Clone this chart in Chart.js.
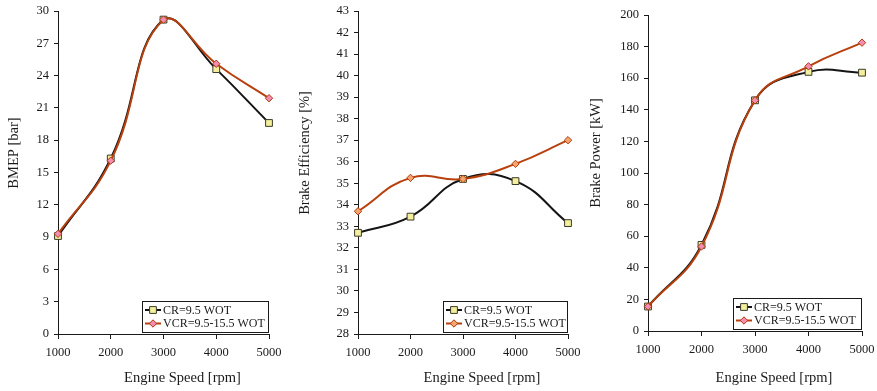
<!DOCTYPE html>
<html>
<head>
<meta charset="utf-8">
<script src="https://cdn.jsdelivr.net/npm/chart.js@4.4.1/dist/chart.umd.min.js"></script>
<style>
  html, body { margin: 0; padding: 0; background: #ffffff; }
  body { width: 877px; height: 391px; position: relative; overflow: hidden; }
  .panel { position: absolute; top: 0; height: 391px; }
  .panel canvas { display: block; }
</style>
</head>
<body>
<div class="panel" id="p1" style="left:0px;width:290px;"><canvas id="c1"></canvas></div>
<div class="panel" id="p2" style="left:290px;width:295px;"><canvas id="c2"></canvas></div>
<div class="panel" id="p3" style="left:580px;width:297px;"><canvas id="c3"></canvas></div>
<script>
// Engine speed sweep (rpm)
const engineSpeed = [1000, 2000, 3000, 4000, 5000];

// Brake mean effective pressure [bar]
const bmepCR  = [9.1, 16.3, 29.2, 24.6, 19.6];
const bmepVCR = [9.3, 16.1, 29.2, 25.1, 21.9];

// Brake efficiency [%]
const effCR  = [32.7, 33.45, 35.2, 35.1, 33.15];
const effVCR = [33.7, 35.25, 35.2, 35.9, 37.0];

// Brake power [kW]
const powerCR  = [15.5, 54.5, 146, 164, 163.5];
const powerVCR = [15.5, 53.5, 146, 167.5, 182.5];

const seriesNames = ['CR=9.5 WOT', 'VCR=9.5-15.5 WOT'];
const xTitle = 'Engine Speed [rpm]';

const SERIF = '"Liberation Serif", "DejaVu Serif", serif';
const INK = '#1a1a1a';

function pairs(xs, ys) {
  return xs.map((x, i) => ({ x: x, y: ys[i] }));
}

function drawMarker(ctx, style, r, x, y) {
  if (style === 'rect') {
    const s = Math.SQRT1_2 * r;
    ctx.rect(x - s, y - s, 2 * s, 2 * s);
  } else {
    ctx.moveTo(x, y - r);
    ctx.lineTo(x + r, y);
    ctx.lineTo(x, y + r);
    ctx.lineTo(x - r, y);
    ctx.closePath();
  }
}

// Boxed legend in the lower-right corner of the plot area
const cornerLegend = {
  id: 'cornerLegend',
  afterDraw(chart, args, opts) {
    const ctx = chart.ctx;
    const a = chart.chartArea;
    const w = opts.width, h = opts.height;
    const x0 = a.right - w - 1, y0 = a.bottom - h - 2;
    ctx.save();
    ctx.fillStyle = '#ffffff';
    ctx.fillRect(x0, y0, w, h);
    ctx.strokeStyle = INK;
    ctx.lineWidth = 1;
    ctx.strokeRect(x0 + 0.5, y0 + 0.5, w, h);
    ctx.font = '12px ' + SERIF;
    ctx.textBaseline = 'middle';
    ctx.textAlign = 'left';
    seriesNames.forEach((name, i) => {
      const ds = chart.data.datasets.find(d => d.label === name);
      const cy = y0 + 9 + i * 13.5;
      ctx.strokeStyle = ds.borderColor;
      ctx.lineWidth = 2;
      ctx.beginPath();
      ctx.moveTo(x0 + 3, cy);
      ctx.lineTo(x0 + 19, cy);
      ctx.stroke();
      ctx.fillStyle = ds.pointBackgroundColor;
      ctx.strokeStyle = ds.pointBorderColor;
      ctx.lineWidth = 1;
      ctx.beginPath();
      drawMarker(ctx, ds.pointStyle, ds.pointRadius, x0 + 11, cy);
      ctx.fill();
      ctx.stroke();
      ctx.fillStyle = INK;
      ctx.fillText(ds.label, x0 + 21, cy + 0.5);
    });
    ctx.restore();
  }
};

// Axis titles, placed where the page layout puts them
const axisTitles = {
  id: 'axisTitles',
  afterDraw(chart, args, opts) {
    const ctx = chart.ctx;
    const a = chart.chartArea;
    ctx.save();
    ctx.fillStyle = INK;
    ctx.font = '14.5px ' + SERIF;
    ctx.textAlign = 'center';
    ctx.textBaseline = 'middle';
    ctx.fillText(xTitle, (a.left + a.right) / 2 + opts.xShift, opts.xTitleY);
    ctx.translate(opts.yTitleX, opts.yTitleY);
    ctx.rotate(-Math.PI / 2);
    ctx.fillText(opts.yText, 0, 0);
    ctx.restore();
  }
};

function makeChart(canvasId, cfg) {
  const datasets = [
    {
      label: seriesNames[0],
      data: pairs(engineSpeed, cfg.cr),
      order: 1,
      borderColor: '#141414',
      borderWidth: 2,
      pointStyle: 'rect',
      pointRadius: 4.8,
      pointHoverRadius: 4.8,
      pointBackgroundColor: '#f3ef9c',
      pointBorderColor: '#3a3a2a',
      pointBorderWidth: 1,
      tension: 0.45,
      clip: false
    },
    {
      label: seriesNames[1],
      data: pairs(engineSpeed, cfg.vcr),
      order: 0,
      borderColor: '#b8400e',
      borderWidth: 2,
      pointStyle: 'rectRot',
      pointRadius: 3.7,
      pointHoverRadius: 3.7,
      pointBackgroundColor: cfg.vcrFill,
      pointBorderColor: '#b03a10',
      pointBorderWidth: 1,
      tension: 0.45,
      clip: false
    }
  ];
  return new Chart(document.getElementById(canvasId), {
    type: 'line',
    data: { datasets: datasets },
    options: {
      responsive: true,
      maintainAspectRatio: false,
      animation: false,
      events: [],
      layout: { padding: { left: 0, top: cfg.top, right: cfg.right, bottom: 0 } },
      plugins: {
        legend: { display: false },
        tooltip: { enabled: false },
        cornerLegend: { width: cfg.legendW, height: 31 },
        axisTitles: {
          yText: cfg.yTitle, yTitleX: cfg.yTitleX, yTitleY: 153,
          xTitleY: 378, xShift: 19
        }
      },
      scales: {
        x: {
          type: 'linear',
          min: 1000,
          max: 5000,
          offset: false,
          ticks: {
            stepSize: 1000,
            color: INK,
            font: { family: SERIF, size: 12.5 },
            padding: 6,
            maxRotation: 0,
            callback: v => String(v)
          },
          grid: { drawOnChartArea: false, color: INK, tickLength: 5 },
          border: { display: true, color: INK, width: 1 },
          afterFit: s => { s.height = cfg.xH; s.paddingLeft = 0; s.paddingRight = 0; }
        },
        y: {
          min: cfg.yMin,
          max: cfg.yMax,
          ticks: {
            stepSize: cfg.yStep,
            color: INK,
            font: { family: SERIF, size: 12.5 },
            padding: 5
          },
          grid: { drawOnChartArea: false, color: INK, tickLength: 4 },
          border: { display: true, color: INK, width: 1 },
          afterFit: s => { s.width = cfg.yW; s.paddingTop = 0; s.paddingBottom = 0; }
        }
      }
    },
    plugins: [cornerLegend, axisTitles]
  });
}

makeChart('c1', {
  cr: bmepCR, vcr: bmepVCR, vcrFill: '#f28cb0',
  yMin: 0, yMax: 30, yStep: 3, yTitle: 'BMEP [bar]', yTitleX: 14,
  yW: 58, xH: 57, top: 11, right: 21, legendW: 126
});

makeChart('c2', {
  cr: effCR, vcr: effVCR, vcrFill: '#f5a46c',
  yMin: 28, yMax: 43, yStep: 1, yTitle: 'Brake Efficiency [%]', yTitleX: 15,
  yW: 68, xH: 57, top: 11, right: 17, legendW: 124
});

makeChart('c3', {
  cr: powerCR, vcr: powerVCR, vcrFill: '#f28cb0',
  yMin: 0, yMax: 200, yStep: 20, yTitle: 'Brake Power [kW]', yTitleX: 16,
  yW: 68, xH: 60, top: 15, right: 15, legendW: 128
});
</script>
</body>
</html>
